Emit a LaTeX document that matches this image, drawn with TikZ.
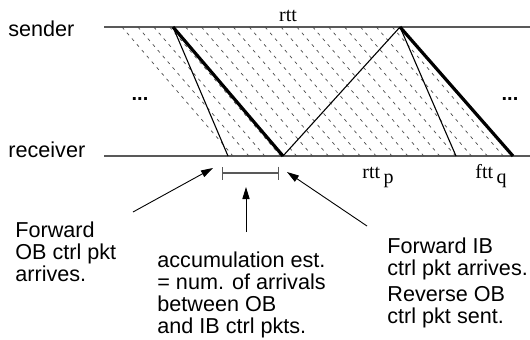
\documentclass[tikz,border=0pt]{standalone}
\usepackage{fontspec}
\setmainfont{Liberation Sans}
\newfontfamily\timesfont{Liberation Serif}
\usetikzlibrary{arrows.meta, positioning}

\begin{document}
\begin{tikzpicture}[
    x=0.5pt, y=-0.5pt,
    font=\fontsize{10.8pt}{11pt}\selectfont,
    timeline/.style={draw=black!65, line width=0.6pt},
    ctrlpkt/.style={line width=0.55pt},
    obpkt/.style={line width=1.6pt},
    arrival/.style={
        line width=0.35pt,
        draw=black!70,
        dash pattern=on 1.6pt off 2.2pt
    },
    pointer/.style={
        -{Triangle[length=6pt,width=3.6pt]},
        line width=0.45pt
    },
    note/.style={inner sep=0pt, anchor=base west, align=left},
    tlabel/.style={inner sep=0pt, font=\timesfont\fontsize{10pt}{11pt}\selectfont},
    host/.style={inner sep=0pt, anchor=base west}
]
\useasboundingbox (0,0) rectangle (530,339);

% --- TIMELINES ------------------------------------------------

\node[host] (sender) at (8,36) {sender};
\node[host] (receiver) at (8,157) {receiver};

\coordinate (sL) at (104,27);
\coordinate (sR) at (530,27);
\coordinate (rL) at (104,156);
\coordinate (rR) at (530,156);

\draw[timeline] (sL) -- (sR);
\draw[timeline] (rL) -- (rR);

\node[font=\bfseries] (dotsL) at (140,99) {...};
\node[font=\bfseries] (dotsR) at (510,99) {...};

% --- DATA PACKET ARRIVALS -------------------------------------

\foreach \i in {0,...,17}
    \draw[arrival] (122+\i*15.9,27) -- ++(111,129);

% --- CONTROL PACKETS ------------------------------------------

\coordinate (s1) at (173,27);
\coordinate (s2) at (400,27);
\coordinate (r1) at (228,156);
\coordinate (r2) at (283,156);
\coordinate (r3) at (456,156);
\coordinate (r4) at (513,156);

\draw[ctrlpkt] (s1) -- (r1);
\draw[obpkt] (s1) -- (r2);
\draw[ctrlpkt] (r2) -- (s2);
\draw[ctrlpkt] (s2) -- (r3);
\draw[obpkt] (s2) -- (r4);

\node[tlabel, anchor=base] (rtt) at (288,21) {rtt};
\node[tlabel, anchor=base west] (rttp) at (362,178) {rtt\,\raisebox{-2.5pt}{p}};
\node[tlabel, anchor=base west] (fttq) at (475,178) {ftt\,\raisebox{-2.5pt}{q}};

% --- ACCUMULATION INTERVAL ------------------------------------

\coordinate (aL) at (222,173);
\coordinate (aR) at (279,173);
\draw[timeline, {Bar[width=6.5pt]}-{Bar[width=6.5pt]}] (aL) -- (aR);

% --- NOTES (anchored at the baseline of their last line) ------

\node[note] (fwdob) at (15,281) {Forward\\OB ctrl pkt\\arrives.};
\node[note] (accum) at (157,333) {accumulation est.\\= num. of arrivals\\between OB\\and IB ctrl pkts.};
\node[note] (fwdib) at (387,275) {Forward IB\\ctrl pkt arrives.};
\node[note] (revob) at (387,323) {Reverse OB\\ctrl pkt sent.};

\coordinate (t1) at (133,212);
\coordinate (h1) at (213,168);
\coordinate (t2) at (246,232);
\coordinate (h2) at (246,187);
\coordinate (t3) at (367,226);
\coordinate (h3) at (287,172);

\draw[pointer] (t1) -- (h1);
\draw[pointer] (t2) -- (h2);
\draw[pointer] (t3) -- (h3);

\end{tikzpicture}
\end{document}
